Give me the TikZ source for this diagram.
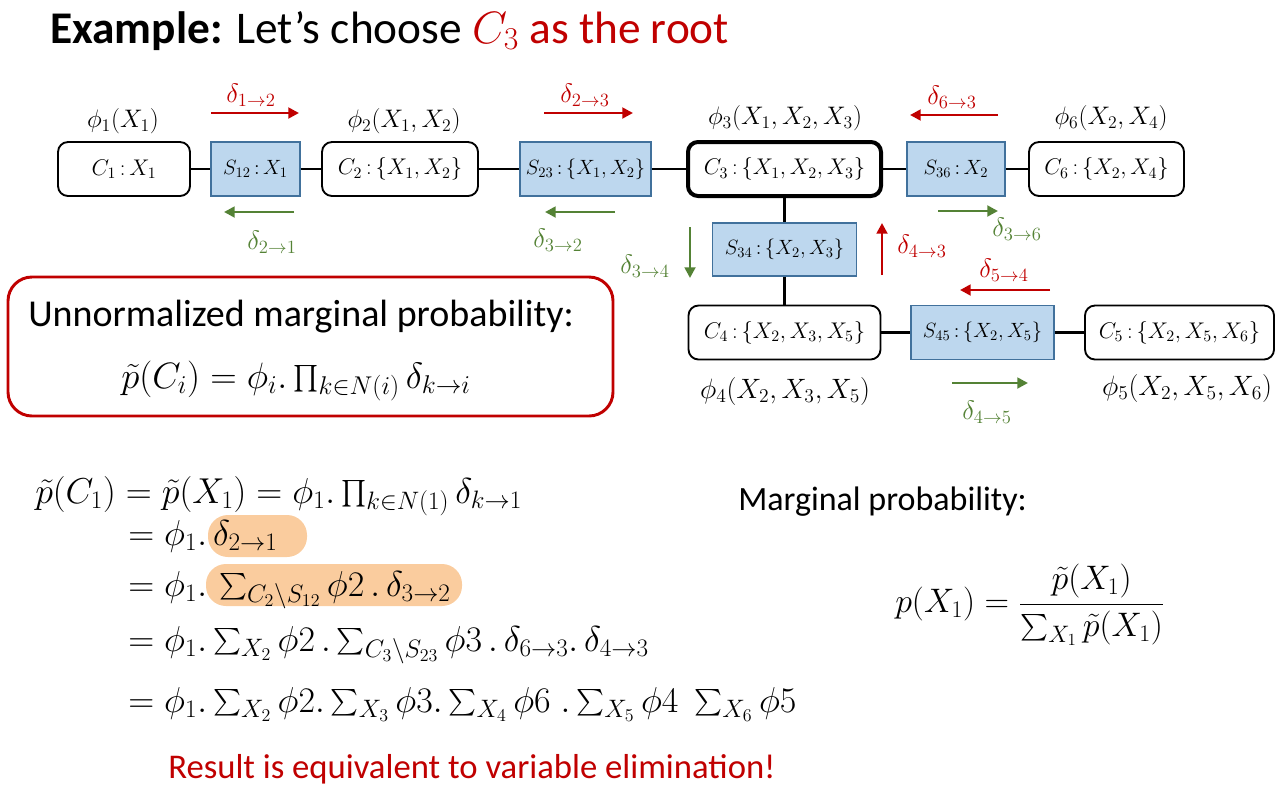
\RequirePackage{fix-cm}
\documentclass[tikz,border=0pt]{standalone}
\usepackage{amsmath}
\usepackage{graphicx}
\usepackage[no-math]{fontspec}
\setmainfont{Carlito}
\usetikzlibrary{arrows.meta}
\definecolor{myred}{RGB}{192,0,0}
\definecolor{mygreen}{RGB}{84,130,53}
\definecolor{sepfill}{RGB}{189,215,238}
\definecolor{sepline}{RGB}{65,113,156}
\definecolor{hlcol}{RGB}{250,204,158}
\newcommand\fsz[1]{\fontsize{#1}{#1}\selectfont}
\newcommand\Sm{\mathop{\vcenter{\hbox{\scalebox{0.8}{$\textstyle\sum$}}}}\nolimits}
\newcommand\Pd{\mathop{\vcenter{\hbox{\scalebox{0.8}{$\textstyle\prod$}}}}\nolimits}
\newcommand\cl{{\,{:}\,}}
\begin{document}
\begin{tikzpicture}[x=0.75pt,y=-0.75pt,
  clus/.style={draw, line width=1.4pt, rounded corners=7.5pt, fill=white,
    minimum height=40.5pt, inner sep=0pt, font=\fsz{17pt}},
  sepset/.style={draw=sepline, line width=1.1pt, fill=sepfill,
    minimum height=40.5pt, inner sep=0pt, font=\fsz{15.5pt}},
  link/.style={line width=2pt},
  rarr/.style={myred, line width=2.2pt, -{Triangle[length=8pt,width=8pt]}},
  garr/.style={mygreen, line width=2.2pt, -{Triangle[length=8pt,width=8pt]}},
  rlab/.style={text=myred, font=\fsz{20pt}, inner sep=0pt},
  glab/.style={text=mygreen, font=\fsz{20pt}, inner sep=0pt},
  pot/.style={font=\fsz{19pt}, inner sep=0pt},
  bigpot/.style={font=\fsz{21pt}, inner sep=0pt},
  eqn/.style={font=\fsz{27pt}, inner sep=0pt, anchor=base west},
  hilite/.style={fill=hlcol, rounded corners=15pt}
]
\useasboundingbox (0,0) rectangle (1279,786);

% title
\node[anchor=base west, inner sep=0pt, font=\fsz{34pt}] (title) at (50,43)
  {\textbf{Example:} Let’s choose \textcolor{myred}{$C_3$ as the root}};

% cluster graph
\node[clus, minimum width=99pt] (c1) at (124,169) {$C_1\cl X_1$};
\node[sepset, minimum width=66.75pt] (s12) at (255.5,169) {$S_{12}\cl X_1$};
\node[clus, minimum width=117pt] (c2) at (400,169) {$C_2\cl\{X_1,X_2\}$};
\node[sepset, minimum width=98.25pt] (s23) at (585.5,169) {$S_{23}\cl\{X_1,X_2\}$};
\node[clus, line width=3pt, minimum width=144.75pt] (c3) at (784.5,169) {$C_3\cl\{X_1,X_2,X_3\}$};
\node[sepset, minimum width=73.5pt] (s36) at (956,169) {$S_{36}\cl X_2$};
\node[clus, minimum width=116.25pt] (c6) at (1106.5,169) {$C_6\cl\{X_2,X_4\}$};
\node[sepset, minimum width=108pt, minimum height=39.75pt] (s34) at (784.5,249.5) {$S_{34}\cl\{X_2,X_3\}$};
\node[clus, minimum width=144pt] (c4) at (784.5,332.5) {$C_4\cl\{X_2,X_3,X_5\}$};
\node[sepset, minimum width=107.25pt] (s45) at (982.5,332.5) {$S_{45}\cl\{X_2,X_5\}$};
\node[clus, minimum width=141.75pt] (c5) at (1179.5,332.5) {$C_5\cl\{X_2,X_5,X_6\}$};

\draw[link] (c1) -- (s12);
\draw[link] (s12) -- (c2);
\draw[link] (c2) -- (s23);
\draw[link] (s23) -- (c3);
\draw[link] (c3) -- (s36);
\draw[link] (s36) -- (c6);
\draw[link] (c3) -- (s34);
\draw[link] (s34) -- (c4);
\draw[link] (c4) -- (s45);
\draw[link] (s45) -- (c5);

% potentials
\node[pot] (p1) at (123,121) {$\phi_1(X_1)$};
\node[pot] (p2) at (404,121) {$\phi_2(X_1,X_2)$};
\node[pot] (p3) at (785,118) {$\phi_3(X_1,X_2,X_3)$};
\node[pot] (p6) at (1111,118) {$\phi_6(X_2,X_4)$};
\node[bigpot] (p4) at (785,391) {$\phi_4(X_2,X_3,X_5)$};
\node[bigpot] (p5) at (1187,388) {$\phi_5(X_2,X_5,X_6)$};

% messages
\coordinate (m12a) at (211,113); \coordinate (m12b) at (299,113);
\draw[rarr] (m12a) -- (m12b);
\node[rlab] (l12) at (251,95) {$\delta_{1\to2}$};
\coordinate (m21a) at (294,212); \coordinate (m21b) at (224,212);
\draw[garr] (m21a) -- (m21b);
\node[glab] (l21) at (272,242) {$\delta_{2\to1}$};
\coordinate (m23a) at (544,113); \coordinate (m23b) at (633,113);
\draw[rarr] (m23a) -- (m23b);
\node[rlab] (l23) at (585,95) {$\delta_{2\to3}$};
\coordinate (m32a) at (615,212); \coordinate (m32b) at (545,212);
\draw[garr] (m32a) -- (m32b);
\node[glab] (l32) at (558,240) {$\delta_{3\to2}$};
\coordinate (m63a) at (998,115); \coordinate (m63b) at (910,115);
\draw[rarr] (m63a) -- (m63b);
\node[rlab] (l63) at (952,97) {$\delta_{6\to3}$};
\coordinate (m36a) at (938,211); \coordinate (m36b) at (998,211);
\draw[garr] (m36a) -- (m36b);
\node[glab] (l36) at (1017,229) {$\delta_{3\to6}$};
\coordinate (m34a) at (690,227); \coordinate (m34b) at (690,278);
\draw[garr] (m34a) -- (m34b);
\node[glab] (l34) at (645,266) {$\delta_{3\to4}$};
\coordinate (m43a) at (882,275); \coordinate (m43b) at (882,223);
\draw[rarr] (m43a) -- (m43b);
\node[rlab] (l43) at (922,246) {$\delta_{4\to3}$};
\coordinate (m54a) at (1050,290); \coordinate (m54b) at (960,290);
\draw[rarr] (m54a) -- (m54b);
\node[rlab] (l54) at (1004,270) {$\delta_{5\to4}$};
\coordinate (m45a) at (952,383); \coordinate (m45b) at (1028,383);
\draw[garr] (m45a) -- (m45b);
\node[glab] (l45) at (987,412) {$\delta_{4\to5}$};

% unnormalized box
\draw[myred, line width=2.2pt, rounded corners=18pt] (8,277) rectangle (613,416);
\node[anchor=base west, inner sep=0pt, font=\fsz{28.5pt}] (unorm) at (28,326)
  {Unnormalized marginal probability:};
\node[anchor=base west, inner sep=0pt, font=\fsz{27.5pt}] (ufor) at (121,388)
  {$\tilde{p}(C_i) = \phi_i.\Pd_{k\in N(i)}\delta_{k\to i}$};

% highlights
\fill[hilite] (208,515) rectangle (307,557);
\fill[hilite] (206,564) rectangle (462,606);

% equations
\node[eqn] (e1) at (35,503)
  {$\tilde{p}(C_1) = \tilde{p}(X_1) = \phi_1.\Pd_{k\in N(1)}\delta_{k\to1}$};
\node[eqn] (e2) at (128,545) {$= \phi_1.\,\delta_{2\to1}$};
\node[eqn] (e3) at (128,596) {$= \phi_1.\,\Sm_{C_2\setminus S_{12}}\phi 2\,.\,\delta_{3\to2}$};
\node[eqn] (e4) at (128,651)
  {$= \phi_1.\Sm_{X_2}\phi 2\,.\Sm_{C_3\setminus S_{23}}\phi 3\,.\,\delta_{6\to3}.\,\delta_{4\to3}$};
\node[eqn] (e5) at (128,712)
  {$= \phi_1.\Sm_{X_2}\phi 2.\Sm_{X_3}\phi 3.\Sm_{X_4}\phi 6\;.\Sm_{X_5}\phi 4\;\Sm_{X_6}\phi 5$};

\node[anchor=base west, inner sep=0pt, font=\fsz{26pt}, text=myred] (res) at (168,778)
  {Result is equivalent to variable elimination!};

% marginal
\node[anchor=base west, inner sep=0pt, font=\fsz{25.5pt}] (marg) at (738,510)
  {Marginal probability:};
\node[anchor=west, inner sep=0pt, font=\fsz{25.5pt}] (frac) at (895,605)
  {$p(X_1) = \dfrac{\tilde{p}(X_1)}{\Sm_{X_1}\tilde{p}(X_1)}$};
\end{tikzpicture}
\end{document}
